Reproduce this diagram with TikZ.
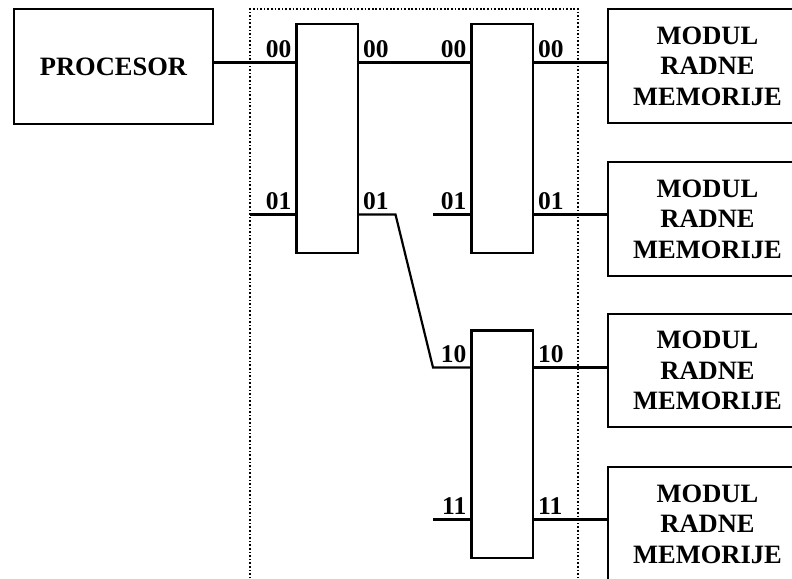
\documentclass[tikz,border=0pt]{standalone}
\usepackage{fontspec}
\setmainfont{Liberation Serif}
\begin{document}
\begin{tikzpicture}[x=1pt,y=-1pt,
  box/.style={draw,line width=2.2pt,rectangle,inner sep=0pt,outer sep=0pt,fill=white},
  bigbox/.style={box,minimum width=199pt,minimum height=114pt,align=center,
     font=\fontsize{26.5}{30.5}\selectfont\bfseries},
  swbox/.style={box,minimum width=61.5pt},
  wire/.style={line width=2.2pt},
  dots/.style={line width=2.2pt,dash pattern=on 1.7pt off 1.9pt},
  lab/.style={inner sep=0pt,font=\fontsize{25.5}{25.5}\selectfont\bfseries},
  labl/.style={lab,anchor=base east,xshift=-5pt,yshift=5pt},
  labr/.style={lab,anchor=base west,xshift=5pt,yshift=5pt}]
\useasboundingbox (0,0) rectangle (792,578);
\clip (0,0) rectangle (792,578);
\fill[white] (0,0) rectangle (792,578);
% dotted frame
\draw[dots] (250,600) -- (250,9) -- (578,9) -- (578,600);
% rows
\coordinate (ya) at (0,62.5);
\coordinate (yb) at (0,214.5);
\coordinate (yc) at (0,367.5);
\coordinate (yd) at (0,519.5);
% boxes
\node[bigbox,minimum height=115pt] (proc) at (113.5,66.5) {PROCESOR};
\node[swbox,minimum height=229pt] (sw1) at (327.25,138.5) {};
\node[swbox,minimum height=229pt] (sw2) at (502.25,138.5) {};
\node[swbox,minimum height=227.5pt] (sw3) at (502.25,444.25) {};
\node[bigbox] (m1) at (707.5,66) {MODUL\\RADNE\\MEMORIJE};
\node[bigbox] (m2) at (707.5,219) {MODUL\\RADNE\\MEMORIJE};
\node[bigbox,minimum height=113pt] (m3) at (707.5,370.5) {MODUL\\RADNE\\MEMORIJE};
\node[bigbox] (m4) at (707.5,524) {MODUL\\RADNE\\MEMORIJE};
% free ends and bends
\coordinate (s1in) at (250,214.5);
\coordinate (s2in) at (433,214.5);
\coordinate (s3in) at (433,519.5);
\coordinate (b1) at (395.5,214.5);
\coordinate (b2) at (433,367.5);
% connectors
\draw[wire] (proc.east |- ya) -- (sw1.west |- ya);
\draw[wire] (sw1.east |- ya) -- (sw2.west |- ya);
\draw[wire] (sw2.east |- ya) -- (m1.west |- ya);
\draw[wire] (s1in) -- (sw1.west |- yb);
\draw[wire] (sw1.east |- yb) -- (b1) -- (b2) -- (sw3.west |- yc);
\draw[wire] (s2in) -- (sw2.west |- yb);
\draw[wire] (sw2.east |- yb) -- (m2.west |- yb);
\draw[wire] (sw3.east |- yc) -- (m3.west |- yc);
\draw[wire] (s3in) -- (sw3.west |- yd);
\draw[wire] (sw3.east |- yd) -- (m4.west |- yd);
% labels
\node[labl] (l1a) at (sw1.west |- ya) {00};
\node[labr] (r1a) at (sw1.east |- ya) {00};
\node[labl] (l1b) at (sw1.west |- yb) {01};
\node[labr] (r1b) at (sw1.east |- yb) {01};
\node[labl] (l2a) at (sw2.west |- ya) {00};
\node[labr] (r2a) at (sw2.east |- ya) {00};
\node[labl] (l2b) at (sw2.west |- yb) {01};
\node[labr] (r2b) at (sw2.east |- yb) {01};
\node[labl] (l3c) at (sw3.west |- yc) {10};
\node[labr] (r3c) at (sw3.east |- yc) {10};
\node[labl] (l3d) at (sw3.west |- yd) {11};
\node[labr] (r3d) at (sw3.east |- yd) {11};
\end{tikzpicture}
\end{document}
